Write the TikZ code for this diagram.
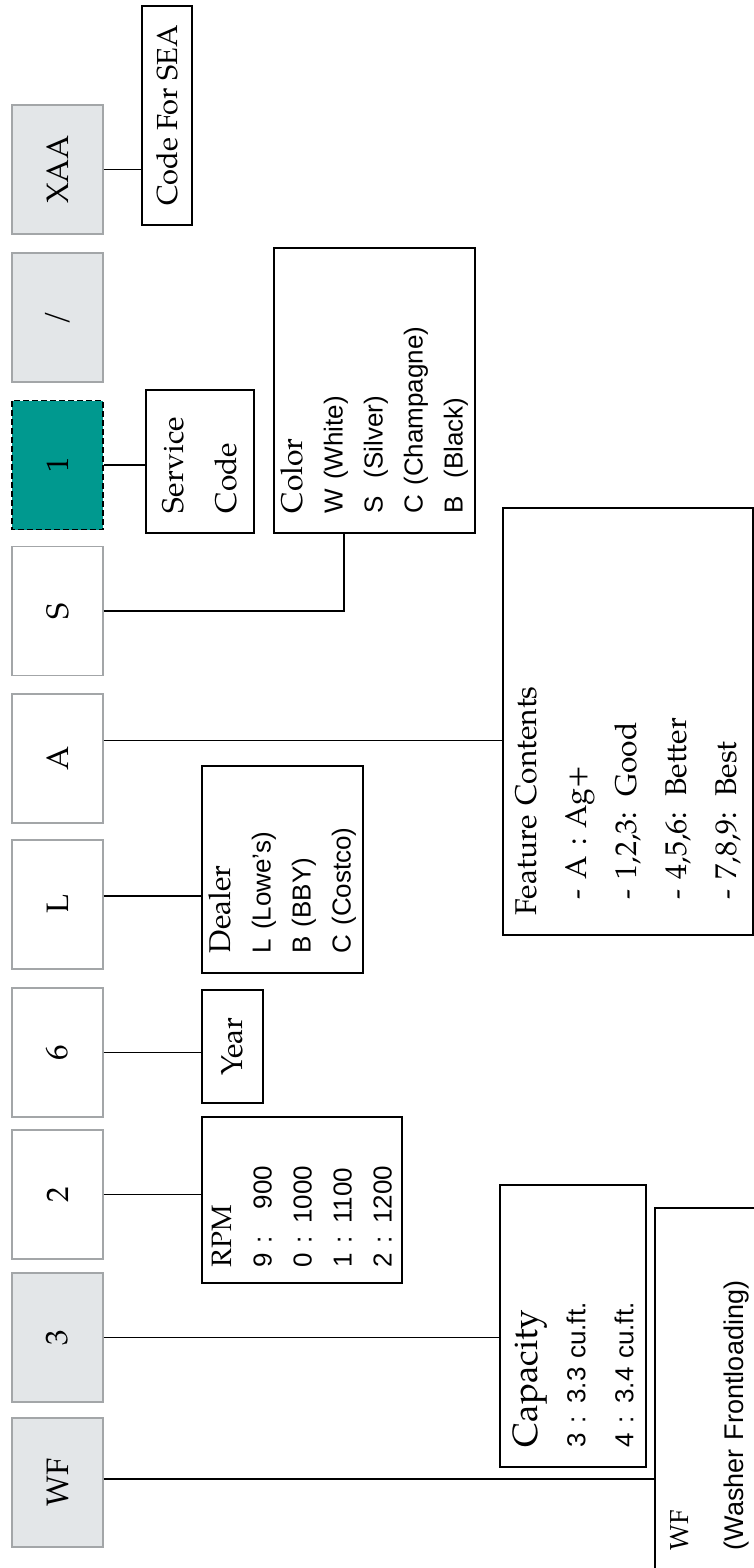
\documentclass[tikz,border=0pt]{standalone}
\usepackage{fontspec}
\setmainfont{TeX Gyre Pagella}
\setsansfont{Liberation Sans}
\usetikzlibrary{calc}
\definecolor{boxgray}{HTML}{E3E6E8}
\definecolor{edgegray}{HTML}{A3A6A8}
\definecolor{tealfill}{HTML}{00998F}
\begin{document}
\begin{tikzpicture}[x=1pt,y=-1pt,
  segbox/.style={rotate=90,draw=edgegray,line width=1.3pt,minimum width=129pt,minimum height=91pt,inner sep=0pt,font=\fontsize{31}{36}\selectfont},
  graybox/.style={segbox,fill=boxgray},
  whitebox/.style={segbox,fill=white},
  tealbox/.style={segbox,fill=tealfill,draw=black,dash pattern=on 6pt off 3pt},
  info/.style={rotate=90,draw=black,line width=1.7pt,inner sep=0pt,align=left,fill=white},
  link/.style={draw=black,line width=1.8pt}]
\useasboundingbox (0,0) rectangle (754,1568);
\clip (0,0) rectangle (754,1568);

% left code segments
\node[graybox]  (XAA)   at (57.5,169.5)  {XAA};
\node[graybox]  (slash) at (57.5,317.5)  {/};
\node[tealbox]  (one)   at (57.5,465)    {1};
\node[whitebox] (S)     at (57.5,611)    {S};
\node[whitebox] (A)     at (57.5,758.5)  {A};
\node[whitebox] (L)     at (57.5,904.5)  {L};
\node[whitebox] (six)   at (57.5,1052.5) {6};
\node[whitebox] (two)   at (57.5,1194.5) {2};
\node[graybox]  (three) at (57.5,1337.5) {3};
\node[graybox]  (WF)    at (57.5,1482.5) {WF};

% description boxes
\node[info,minimum width=219pt,minimum height=50pt,align=center,font=\fontsize{29}{34}\selectfont]
  (code) at (167,115.5) {Code For SEA};
\node[info,minimum width=143pt,minimum height=108pt,text width=103pt,font=\fontsize{30}{53}\selectfont]
  (service) at (200,461.5) {Service\\Code};
\node[info,minimum width=285pt,minimum height=201pt,text width=245pt,font=\fontsize{26}{40}\selectfont\sffamily]
  (color) at (374.5,390.5) {{\rmfamily\fontsize{30}{40}\selectfont Color}\\W (White)\\S\ \ (Silver)\\C (Champagne)\\B\ \ (Black)};
\node[info,minimum width=427pt,minimum height=250pt,text width=387pt,font=\fontsize{30}{50}\selectfont]
  (feature) at (628,721.5) {Feature Contents\\\hspace*{16pt}- A : Ag+\\\hspace*{16pt}- 1,2,3: Good\\\hspace*{16pt}- 4,5,6: Better\\\hspace*{16pt}- 7,8,9: Best};
\node[info,minimum width=207pt,minimum height=161pt,text width=167pt,font=\fontsize{26}{40}\selectfont\sffamily]
  (dealer) at (282.5,869.5) {{\rmfamily\fontsize{30}{40}\selectfont Dealer}\\L (Lowe's)\\B (BBY)\\C (Costco)};
\node[info,minimum width=113pt,minimum height=61pt,align=center,font=\fontsize{30}{36}\selectfont]
  (year) at (232.5,1046.5) {Year};
\node[info,minimum width=166pt,minimum height=200pt,text width=134pt,font=\fontsize{26}{40}\selectfont\sffamily]
  (rpm) at (302,1200) {{\rmfamily\fontsize{28}{40}\selectfont RPM}\\9 : \hphantom{1}900\\0 : 1000\\1 : 1100\\2 : 1200};
\node[info,minimum width=282pt,minimum height=146pt,text width=242pt,font=\fontsize{26}{48}\selectfont\sffamily]
  (capacity) at (573,1326) {{\rmfamily\fontsize{35}{48}\selectfont Capacity}\\3 : 3.3 cu.ft.\\4 : 3.4 cu.ft.};
\node[info,minimum width=367pt,minimum height=110pt,text width=317pt,font=\fontsize{27}{55}\selectfont\sffamily]
  (wfbox) at (710,1391.5) {{\rmfamily\fontsize{26}{55}\selectfont WF}\\(Washer Frontloading)};

% connectors
\draw[link] (XAA.south) -- (XAA.south -| code.north);
\draw[link] (one.south) -- (one.south -| service.north);
\coordinate (colorin) at ([xshift=-30.5pt]color.west);
\draw[link] (S.south) -| (colorin);
\coordinate (Aout) at ([yshift=18pt]A.south);
\draw[link] (Aout) -- (Aout -| feature.north);
\coordinate (Lout) at ([yshift=8.5pt]L.south);
\draw[link] (Lout) -- (Lout -| dealer.north);
\draw[link] (six.south) -- (six.south -| year.north);
\draw[link] (two.south) -- (two.south -| rpm.north);
\draw[link] (three.south) -- (three.south -| capacity.north);
\coordinate (WFout) at ([yshift=3.5pt]WF.south);
\draw[link] (WFout) -- (WFout -| wfbox.north);
\end{tikzpicture}
\end{document}
